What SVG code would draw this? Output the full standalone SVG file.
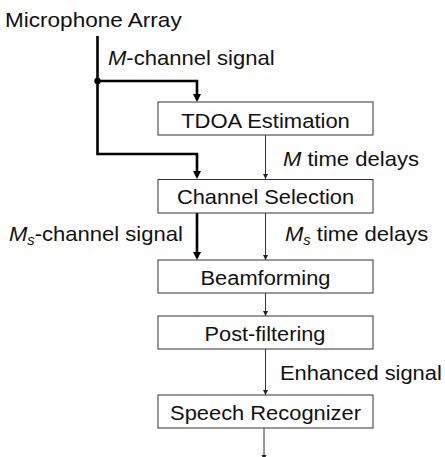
<svg xmlns="http://www.w3.org/2000/svg" width="445" height="457" viewBox="0 0 445 457">
  <style>
    .box { fill: #ffffff; stroke: #333333; stroke-width: 1; }
    .txt { font-family: "Liberation Sans", Arial, sans-serif; font-size: 21px; fill: #111111; }
    .mid { text-anchor: middle; }
    .it { font-style: italic; }
    .thick { fill: none; stroke: #000000; stroke-width: 2.6; }
    .thin { fill: none; stroke: #333333; stroke-width: 1; }
  </style>
  <defs>
    <marker id="headThick" markerUnits="userSpaceOnUse" markerWidth="9" markerHeight="9" refX="5" refY="4" orient="auto">
      <path d="M0,0 L8,4 L0,8 z" fill="#000000"/>
    </marker>
    <marker id="headThin" markerUnits="userSpaceOnUse" markerWidth="6" markerHeight="6" refX="5" refY="2.5" orient="auto">
      <path d="M0,0 L5,2.5 L0,5 z" fill="#222222"/>
    </marker>
  </defs>

  <!-- source label -->
  <g id="mic-array">
    <text class="txt" transform="translate(5,27) scale(1.074,1)">Microphone Array</text>
  </g>

  <!-- connectors -->
  <g id="connectors">
    <path class="thick" d="M97.5,36 V154 H197 V176" marker-end="url(#headThick)"/>
    <path class="thick" d="M97.5,81 H197 V99" marker-end="url(#headThick)"/>
    <circle cx="97.5" cy="81" r="3.2" fill="#000000"/>
    <path class="thick" d="M197,213 V257" marker-end="url(#headThick)"/>
    <path class="thin" d="M265.5,135 V179" marker-end="url(#headThin)"/>
    <path class="thin" d="M265.5,213 V260" marker-end="url(#headThin)"/>
    <path class="thin" d="M265.5,293 V316" marker-end="url(#headThin)"/>
    <path class="thin" d="M265.5,349 V395" marker-end="url(#headThin)"/>
    <path class="thin" d="M264,428 V460" marker-end="url(#headThin)"/>
  </g>

  <!-- connector labels -->
  <g id="labels">
    <text class="txt" transform="translate(108,65) scale(1.05,1)"><tspan class="it">M</tspan>-channel signal</text>
    <text class="txt" transform="translate(283,166) scale(1.05,1)"><tspan class="it">M</tspan> time delays</text>
    <text class="txt" transform="translate(9,241) scale(1.05,1)"><tspan class="it">M</tspan><tspan class="it" font-size="14" dy="4">s</tspan><tspan dy="-4">-channel signal</tspan></text>
    <text class="txt" transform="translate(285,241) scale(1.05,1)"><tspan class="it">M</tspan><tspan class="it" font-size="14" dy="4">s</tspan><tspan dy="-4"> time delays</tspan></text>
    <text class="txt" transform="translate(280,380) scale(1.043,1)">Enhanced signal</text>
  </g>

  <g id="tdoa">
    <rect class="box" x="158" y="102" width="215" height="33"/>
    <text class="txt mid" transform="translate(265.5,127.5) scale(1.048,1)">TDOA Estimation</text>
  </g>
  <g id="channel-selection">
    <rect class="box" x="158" y="179.5" width="215" height="33.5"/>
    <text class="txt mid" transform="translate(265.5,204) scale(1.04,1)">Channel Selection</text>
  </g>
  <g id="beamforming">
    <rect class="box" x="158" y="260" width="215" height="33"/>
    <text class="txt mid" transform="translate(265.5,285) scale(1.041,1)">Beamforming</text>
  </g>
  <g id="post-filtering">
    <rect class="box" x="158" y="316" width="215" height="33"/>
    <text class="txt mid" transform="translate(265,341) scale(1.037,1)">Post-filtering</text>
  </g>
  <g id="speech-recognizer">
    <rect class="box" x="158" y="395" width="215" height="33"/>
    <text class="txt mid" transform="translate(265.5,419.5) scale(1.042,1)">Speech Recognizer</text>
  </g>
</svg>
